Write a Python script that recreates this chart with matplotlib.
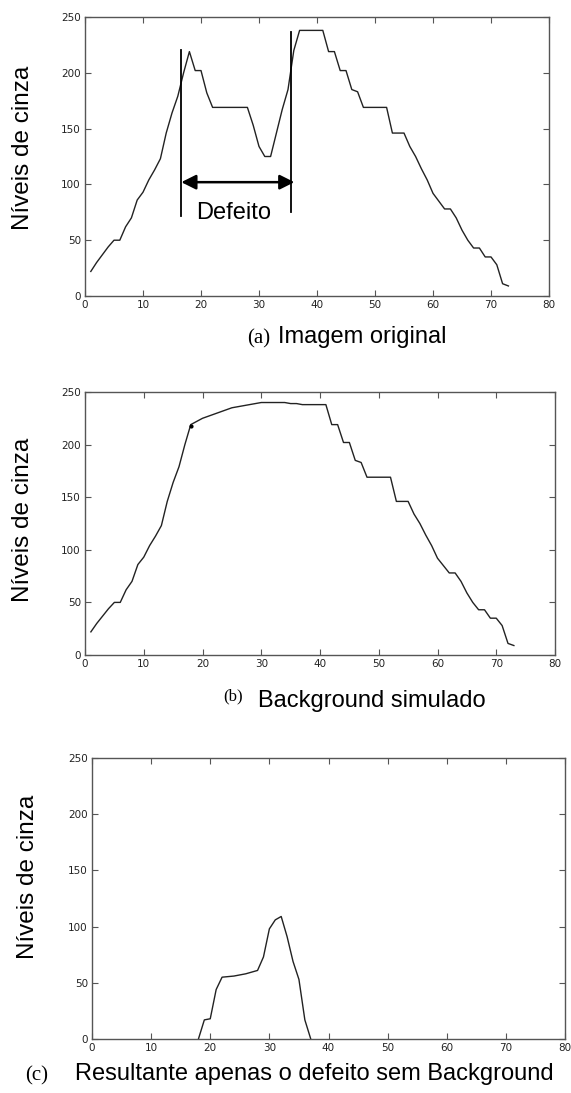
import numpy as np
import matplotlib.pyplot as plt

plt.rcParams.update({'font.family': 'DejaVu Sans'})

# (a) perfil da imagem original
xa = list(range(1, 74))
ya = [22, 30, 37, 44, 50, 50, 62, 70, 86, 93,
      104, 113, 123, 146, 164, 179, 200, 219, 202, 202,
      182, 169, 169, 169, 169, 169, 169, 169, 153, 134,
      125, 125, 146, 167, 185, 220, 238, 238, 238, 238,
      238, 219, 219, 202, 202, 185, 183, 169, 169, 169,
      169, 169, 146, 146, 146, 134, 125, 114, 104, 92,
      85, 78, 78, 70, 59, 50, 43, 43, 35, 35,
      28, 11, 9]

# (b) background simulado
yb = ya[:18] + [222, 225, 227, 229, 231, 233, 235, 236, 237, 238,
                239, 240, 240, 240, 240, 240, 239, 239, 238, 238,
                238, 238, 238] + ya[41:]
xb = list(range(1, len(yb) + 1))

# (c) defeito sem background
xc = [18, 19, 20, 21, 22, 24, 26, 28, 29, 30, 31, 32, 33, 34, 35, 36, 37]
yc = [0, 17, 18, 44, 55, 56, 58, 61, 73, 98, 106, 109, 91, 69, 53, 17, 0]

xticks = [0, 10, 20, 30, 40, 50, 60, 70, 80]
yticks = [0, 50, 100, 150, 200, 250]

W, H = 571, 1093
fig = plt.figure(figsize=(W / 100, H / 100), dpi=100)

def box(l, t, r, b):
    return [l / W, 1 - b / H, (r - l) / W, (b - t) / H]

def style(ax):
    ax.set_xlim(0, 80)
    ax.set_ylim(0, 250)
    ax.set_xticks(xticks)
    ax.set_yticks(yticks)
    ax.tick_params(direction='in', top=True, right=True, length=4, width=0.8,
                   colors='#555555', labelcolor='#222222', labelsize=7.5, pad=3)
    for s in ax.spines.values():
        s.set_color('#555555')
        s.set_linewidth(1.0)

axa = fig.add_axes(box(85, 17, 549, 296))
axb = fig.add_axes(box(85, 392, 555, 655))
axc = fig.add_axes(box(92, 758, 565, 1039))
for ax in (axa, axb, axc):
    style(ax)

axa.plot(xa, ya, color='#222222', lw=1.0)
axb.plot(xb, yb, color='#222222', lw=1.0)
axb.plot([18], [218], 'o', color='black', ms=2)
axc.plot(xc, yc, color='#222222', lw=1.0)

# marcação do defeito
axa.plot([16.6, 16.6], [72, 220], color='black', lw=1.3)
axa.plot([35.5, 35.5], [75, 237], color='black', lw=1.3)
axa.annotate('', xy=(16.6, 102), xytext=(36.1, 102),
             arrowprops=dict(arrowstyle='<|-|>', color='black', lw=1.8,
                             mutation_scale=22, shrinkA=0, shrinkB=0))
axa.text(25.6, 74, 'Defeito', fontsize=17, family='Liberation Sans',
         ha='center', va='center')

# rótulos do eixo y
for yc_pix, xc_pix in [(148, 23), (520, 23), (877, 28)]:
    fig.text(xc_pix / W, 1 - yc_pix / H, 'Níveis de cinza', rotation=90,
             fontsize=17.5, family='Liberation Sans', ha='center', va='center')

# legendas
sans = 'Liberation Sans'
serif = 'Liberation Serif'
fig.text(247 / W, 1 - 343 / H, '(a)', fontsize=15, family=serif, va='baseline')
fig.text(278 / W, 1 - 343 / H, 'Imagem original', fontsize=17, family=sans, va='baseline')
fig.text(223 / W, 1 - 700 / H, '(b)', fontsize=12, family=serif, va='baseline')
fig.text(258 / W, 1 - 707 / H, 'Background simulado', fontsize=17, family=sans, va='baseline')
fig.text(25 / W, 1 - 1080 / H, '(c)', fontsize=15, family=serif, va='baseline')
fig.text(75 / W, 1 - 1080 / H, 'Resultante apenas o defeito sem Background',
         fontsize=17, family=sans, va='baseline')

fig.savefig('out.png', dpi=100)
